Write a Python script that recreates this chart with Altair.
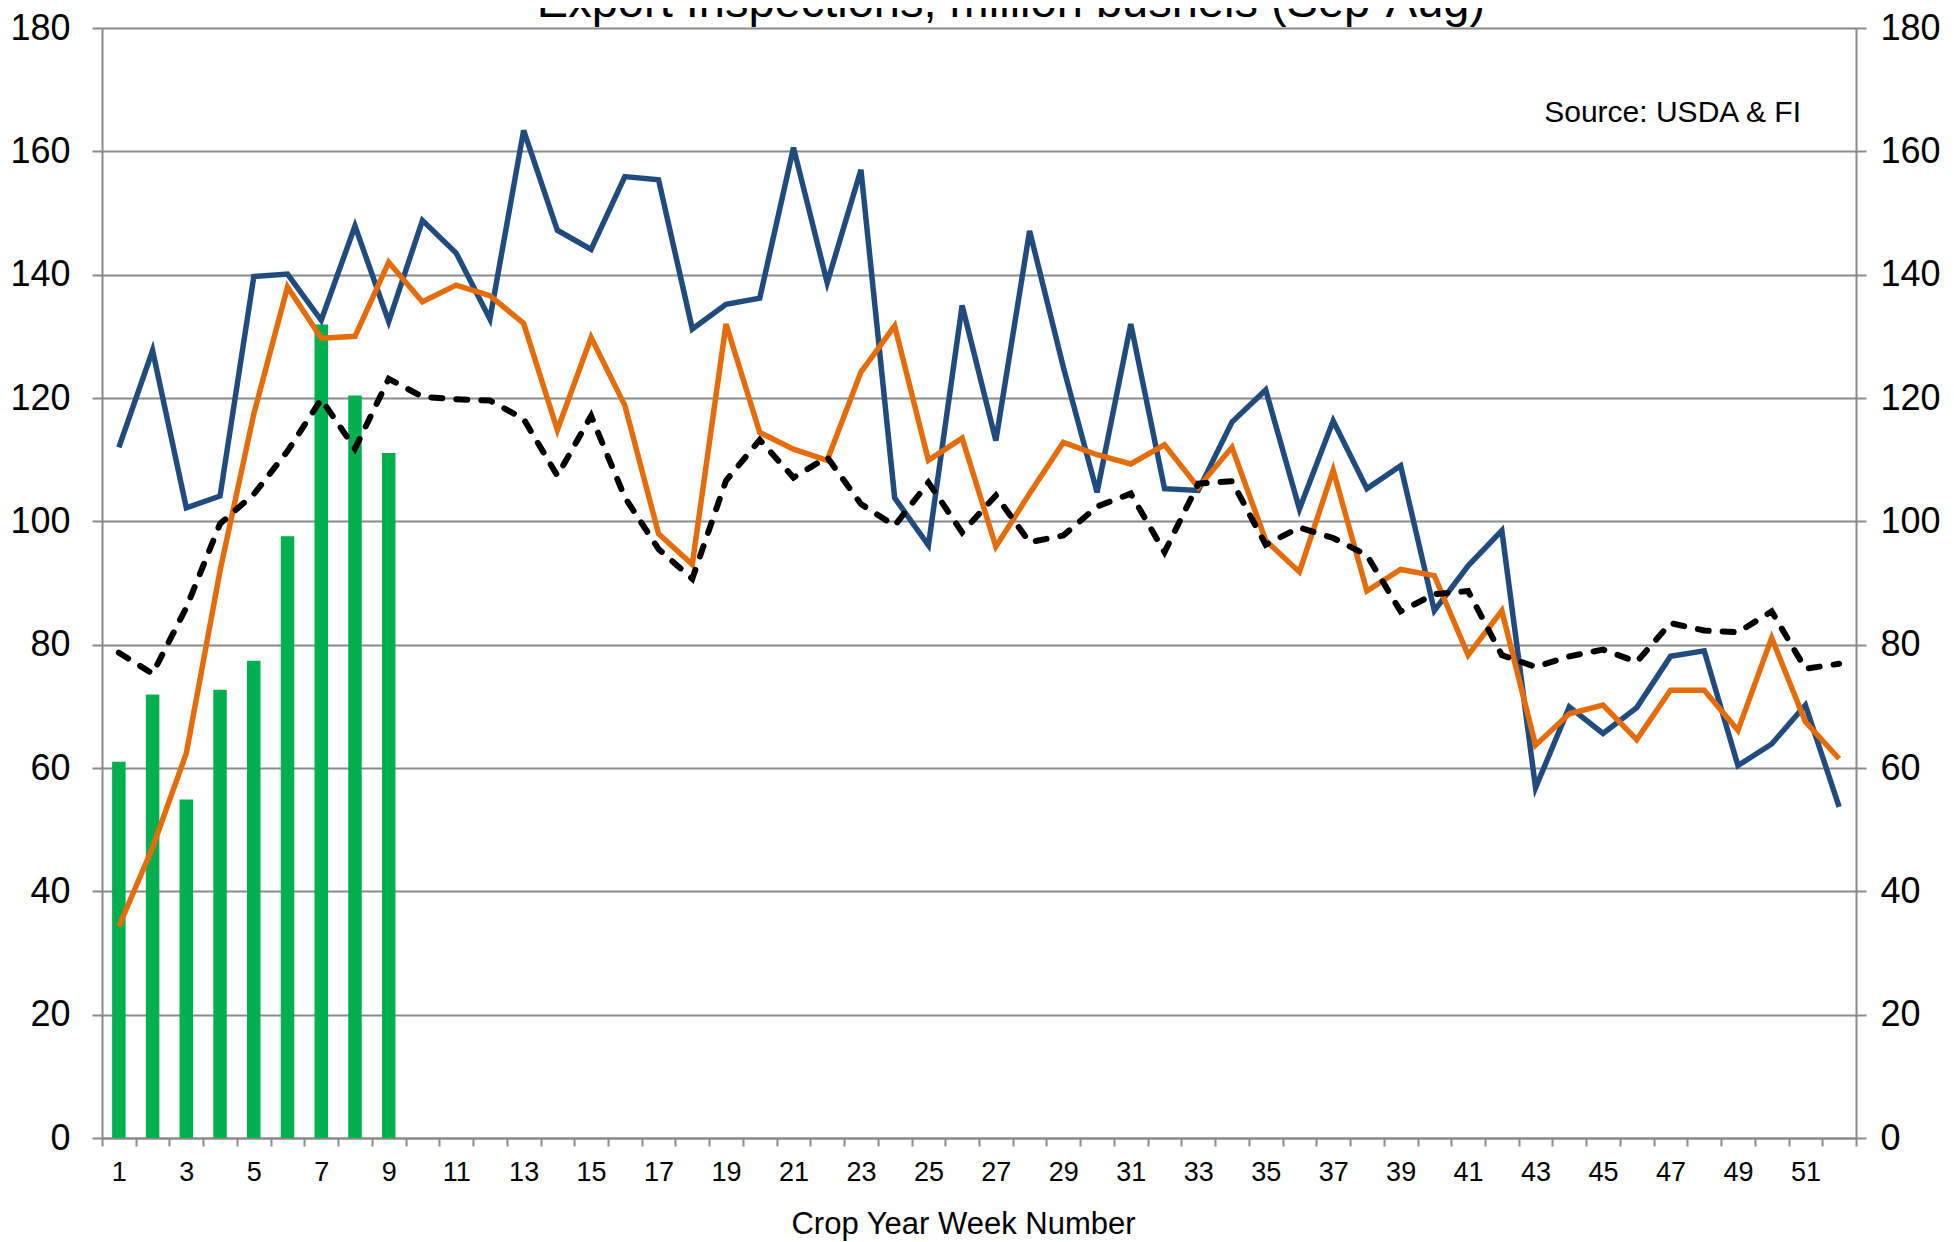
import altair as alt
import pandas as pd

weeks = list(range(1, 53))
bar_weeks = list(range(1, 10))
current_year = [61.0, 71.9, 54.9, 72.7, 77.4, 97.6, 131.9, 120.4, 111.1]

blue_series = [112.0, 127.7, 102.2, 104.1, 139.7, 140.1, 132.6, 147.9, 132.4, 148.8,
               143.5, 132.8, 163.4, 147.2, 144.1, 155.9, 155.4, 131.2, 135.2, 136.2,
               160.6, 138.7, 157.0, 103.8, 96.1, 135.0, 113.1, 147.1, 125.0, 104.7,
               132.0, 105.3, 105.0, 116.1, 121.3, 102.0, 116.3, 105.3, 109.0, 85.5,
               92.8, 98.5, 56.8, 69.9, 65.6, 69.8, 78.1, 79.0, 60.4, 63.9,
               70.2, 53.7]

orange_series = [34.3, 47.1, 62.4, 92.0, 117.4, 138.0, 129.7, 130.0, 142.0, 135.6,
                 138.3, 136.6, 132.1, 114.8, 129.8, 118.8, 98.0, 93.0, 132.0, 114.4,
                 111.7, 109.9, 124.2, 131.7, 109.9, 113.5, 95.9, 104.5, 112.8, 110.8,
                 109.3, 112.4, 105.5, 112.0, 96.9, 91.8, 108.3, 88.7, 92.2, 91.2,
                 78.3, 85.5, 63.7, 68.8, 70.2, 64.6, 72.6, 72.6, 66.1, 81.1,
                 67.5, 61.5]

average_series = [78.7, 75.3, 86.0, 99.6, 104.4, 111.4, 119.8, 111.8, 123.1, 120.2,
                  119.8, 119.6, 116.6, 107.4, 117.1, 103.9, 95.5, 90.7, 106.6, 113.2,
                  107.1, 110.4, 102.8, 99.3, 106.3, 98.2, 104.2, 96.6, 97.7, 102.4,
                  104.5, 95.0, 106.1, 106.5, 96.2, 99.0, 97.3, 94.5, 85.4, 88.2,
                  88.7, 78.3, 76.4, 78.1, 79.2, 77.2, 83.5, 82.3, 82.0, 85.4,
                  76.1, 76.9]

y_ticks = list(range(0, 181, 20))
x_tick_edges = [w - 0.5 for w in range(1, 54)]

title_text = "Export Inspections, million bushels (Sep-Aug)"
source_text = "Source: USDA & FI"
x_title = "Crop Year Week Number"

FONT = "Liberation Sans"
GRAY = "#8a8a8a"
W, H = 1754, 1110

bars_df = pd.DataFrame({"week": bar_weeks, "value": current_year})
blue_df = pd.DataFrame({"week": weeks, "value": blue_series})
orange_df = pd.DataFrame({"week": weeks, "value": orange_series})
avg_df = pd.DataFrame({"week": weeks, "value": average_series})

x_enc = alt.X(
    "week:Q",
    scale=alt.Scale(domain=[0.5, 52.5], nice=False, zero=False, padding=0),
    axis=alt.Axis(
        values=x_tick_edges,
        labelExpr="((datum.value + 0.5) % 2 == 1 && datum.value < 52) ? format(datum.value + 0.5, 'd') : ''",
        labelOffset=W / 52 / 2,
        labelFlush=False,
        labelOverlap=False,
        labelFontSize=27,
        labelPadding=13,
        tickSize=8,
        grid=False,
        title=x_title,
        titleFontSize=31,
        titleFontWeight="normal",
        titleX=861,
        titleY=95,
        titleAlign="center",
        titleBaseline="alphabetic",
    ),
)

y_scale = alt.Scale(domain=[0, 180], nice=False, zero=True)

left_axis = alt.Axis(
    values=y_ticks, orient="left", title=None, grid=True, tickSize=10,
    labelPadding=22, labelFontSize=36, format="d",
)
right_axis = alt.Axis(
    values=y_ticks, orient="right", title=None, grid=False, tickSize=10,
    labelPadding=14, labelFontSize=36, format="d",
)

bars = alt.Chart(bars_df).mark_bar(color="#00B050", size=13.5).encode(
    x=x_enc,
    y=alt.Y("value:Q", scale=y_scale, axis=left_axis),
)

blue = alt.Chart(blue_df).mark_line(color="#214B7D", strokeWidth=5.5, strokeJoin="miter").encode(
    x=x_enc,
    y=alt.Y("value:Q", scale=y_scale, axis=right_axis),
)

orange = alt.Chart(orange_df).mark_line(color="#E46C0A", strokeWidth=5.5, strokeJoin="miter").encode(
    x=x_enc,
    y=alt.Y("value:Q", scale=y_scale, axis=None),
)

avg = alt.Chart(avg_df).mark_line(
    color="black", strokeWidth=6, strokeDash=[11, 14], strokeCap="round"
).encode(
    x=x_enc,
    y=alt.Y("value:Q", scale=y_scale, axis=None),
)

title_layer = alt.Chart(pd.DataFrame({"t": [title_text]})).mark_text(
    font=FONT, fontSize=47, align="center", baseline="alphabetic", color="black"
).encode(x=alt.value(909), y=alt.value(-11), text="t:N")

source_layer = alt.Chart(pd.DataFrame({"t": [source_text]})).mark_text(
    font=FONT, fontSize=30, align="right", baseline="alphabetic", color="black"
).encode(x=alt.value(1699), y=alt.value(94), text="t:N")

chart = (
    alt.layer(bars, blue, orange, avg, title_layer, source_layer)
    .resolve_scale(y="independent")
    .properties(
        width=W,
        height=H,
        autosize=alt.AutoSizeParams(type="none"),
        padding={"left": 94, "top": 20, "right": 90, "bottom": 104},
        background="white",
    )
    .configure_view(stroke=None)
    .configure_axis(
        domainColor=GRAY,
        domainWidth=2,
        tickColor=GRAY,
        tickWidth=2,
        gridColor=GRAY,
        gridWidth=2,
        labelColor="black",
        titleColor="black",
        labelFont=FONT,
        titleFont=FONT,
    )
)

chart.save("out.html", embed_options={"renderer": "svg", "actions": False})
